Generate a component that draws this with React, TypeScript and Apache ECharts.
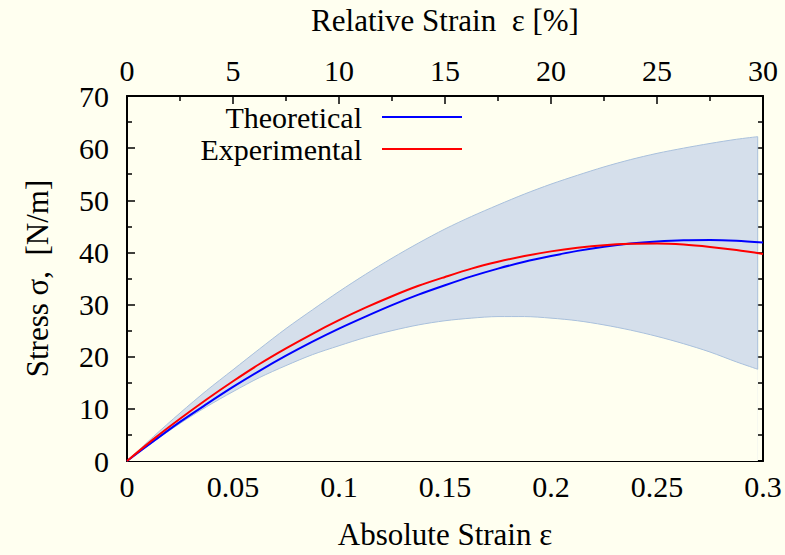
import React, { useEffect, useRef } from "react";
import * as echarts from "echarts";

const strain = [
  0, 0.0125, 0.025, 0.0375, 0.05, 0.0625, 0.075, 0.0875, 0.1, 0.1125, 0.125, 0.1375, 0.15,
  0.1625, 0.175, 0.1875, 0.2, 0.2125, 0.225, 0.2375, 0.25, 0.2625, 0.275, 0.2875, 0.3,
];
const theoretical = [
  0, 3.8, 7.5, 10.9, 14.2, 17.3, 20.2, 22.9, 25.4, 27.7, 29.9, 31.9, 33.7,
  35.4, 36.9, 38.2, 39.3, 40.3, 41.1, 41.7, 42.1, 42.35, 42.4, 42.25, 41.9,
];
const experimental = [
  0, 4.2, 8.1, 11.8, 15.3, 18.6, 21.6, 24.4, 27.0, 29.4, 31.6, 33.6, 35.3,
  36.9, 38.2, 39.3, 40.2, 40.9, 41.4, 41.65, 41.7, 41.5, 41.05, 40.45, 39.7,
];

const bandStrain = [
  0, 0.0125, 0.025, 0.0375, 0.05, 0.0625, 0.075, 0.0875, 0.1, 0.1125, 0.125, 0.1375, 0.15,
  0.1625, 0.175, 0.1875, 0.2, 0.2125, 0.225, 0.2375, 0.25, 0.2625, 0.275, 0.2875, 0.2975,
];
const bandUpper = [
  0, 4.7, 9.2, 13.5, 17.5, 21.5, 25.4, 29.0, 32.5, 35.8, 38.9, 41.8, 44.5,
  46.9, 49.1, 51.2, 53.1, 54.8, 56.4, 57.8, 59.0, 60.0, 60.9, 61.7, 62.2,
];
const bandLower = [
  0, 3.7, 7.2, 10.4, 13.3, 16.0, 18.3, 20.4, 22.1, 23.7, 25.0, 26.1, 26.9,
  27.4, 27.7, 27.7, 27.4, 26.9, 26.1, 25.1, 23.9, 22.5, 20.9, 19.0, 17.6,
];

const FONT = "Liberation Serif";
const BG = "#fffff0";
const BAND_FILL = "#d5dfeb";
const BAND_EDGE = "#a9c0dc";

export default function App() {
  const ref = useRef<HTMLDivElement>(null);
  useEffect(() => {
    if (!ref.current) return;
    const chart = echarts.init(ref.current, undefined, { renderer: "svg" });
    const axisCommon = {
      axisLine: { show: true, onZero: false, lineStyle: { color: "#000", width: 2 } },
      axisTick: { show: true, inside: true, length: 8, lineStyle: { color: "#000", width: 1.5 } },
      minorTick: { show: true, splitNumber: 2, length: 5, lineStyle: { color: "#000", width: 1.5 } },
      splitLine: { show: false },
      minorSplitLine: { show: false },
    };
    const last = bandStrain.length - 1;
    chart.setOption({
      animation: false,
      backgroundColor: BG,
      textStyle: { fontFamily: FONT },
      grid: { left: 127, right: 22, top: 93, bottom: 93, containLabel: false },
      legend: {
        data: ["Theoretical", "Experimental"],
        orient: "vertical",
        align: "right",
        right: 323,
        top: 102,
        padding: 0,
        itemGap: 2,
        itemWidth: 80,
        itemHeight: 2,
        icon: "rect",
        textStyle: { fontFamily: FONT, fontSize: 30, color: "#000", lineHeight: 30, padding: [0, 15, 0, 0] },
      },
      xAxis: [
        {
          type: "value",
          position: "bottom",
          min: 0,
          max: 0.3,
          interval: 0.05,
          name: "Absolute Strain ε",
          nameLocation: "middle",
          nameGap: 58,
          nameTextStyle: { fontFamily: FONT, fontSize: 31, color: "#000" },
          axisLabel: { fontFamily: FONT, fontSize: 30, color: "#000", margin: 10 },
          ...axisCommon,
        },
        {
          type: "value",
          position: "top",
          min: 0,
          max: 30,
          interval: 5,
          name: "Relative Strain  ε [%]",
          nameLocation: "middle",
          nameGap: 60,
          nameTextStyle: { fontFamily: FONT, fontSize: 31, color: "#000" },
          axisLabel: { fontFamily: FONT, fontSize: 30, color: "#000", margin: 11 },
          ...axisCommon,
        },
      ],
      yAxis: [
        {
          type: "value",
          position: "left",
          min: 0,
          max: 70,
          interval: 10,
          name: "Stress σ,  [N/m]",
          nameLocation: "middle",
          nameRotate: 90,
          nameGap: 74,
          nameTextStyle: { fontFamily: FONT, fontSize: 31, color: "#000" },
          axisLabel: { fontFamily: FONT, fontSize: 30, color: "#000", margin: 18 },
          ...axisCommon,
        },
        {
          type: "value",
          position: "right",
          min: 0,
          max: 70,
          interval: 10,
          axisLabel: { show: false },
          ...axisCommon,
        },
      ],
      series: [
        {
          name: "bandUpper",
          type: "line",
          data: bandStrain.map((x, i) => [x, bandUpper[i]]),
          smooth: 0.3,
          symbol: "none",
          lineStyle: { color: BAND_EDGE, width: 1 },
          areaStyle: { color: BAND_FILL, opacity: 1 },
          silent: true,
          z: 1,
        },
        {
          name: "bandLower",
          type: "line",
          data: bandStrain.map((x, i) => [x, bandLower[i]]),
          smooth: 0.3,
          symbol: "none",
          lineStyle: { color: BAND_EDGE, width: 1 },
          areaStyle: { color: BG, opacity: 1 },
          silent: true,
          z: 1,
        },
        {
          name: "bandEdge",
          type: "line",
          data: [
            [bandStrain[last], bandLower[last]],
            [bandStrain[last], bandUpper[last]],
          ],
          symbol: "none",
          lineStyle: { color: BAND_EDGE, width: 1 },
          silent: true,
          z: 1,
        },
        {
          name: "Theoretical",
          type: "line",
          data: strain.map((x, i) => [x, theoretical[i]]),
          smooth: 0.3,
          symbol: "none",
          itemStyle: { color: "#0000ff" },
          lineStyle: { color: "#0000ff", width: 2 },
          z: 3,
        },
        {
          name: "Experimental",
          type: "line",
          data: strain.map((x, i) => [x, experimental[i]]),
          smooth: 0.3,
          symbol: "none",
          itemStyle: { color: "#ff0000" },
          lineStyle: { color: "#ff0000", width: 2 },
          z: 3,
        },
      ],
    });
    return () => chart.dispose();
  }, []);
  return <div ref={ref} style={{ position: "fixed", left: 0, top: 0, width: 785, height: 555 }} />;
}
